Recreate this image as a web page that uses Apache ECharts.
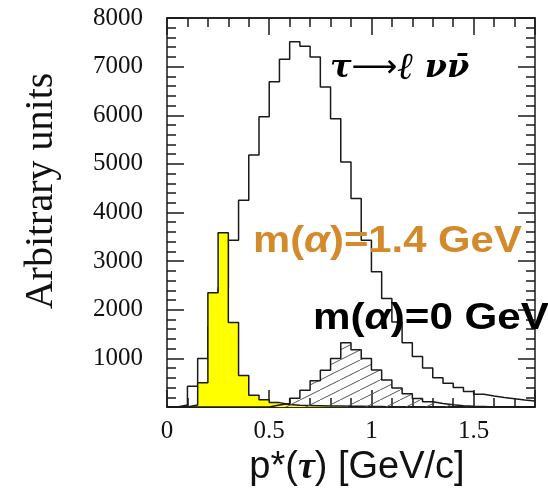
<!DOCTYPE html>
<html><head><meta charset="utf-8">
<script src="https://cdn.jsdelivr.net/npm/echarts@6/dist/echarts.min.js"></script>
<style>html,body{margin:0;padding:0;background:#fff}#c{width:548px;height:494px}</style>
</head><body><div id="c"></div>
<script>
// Bin edges of p*(tau) [GeV/c]
const binEdges = [0,0.05,0.1,0.15,0.2,0.25,0.3,0.35,0.4,0.45,0.5,0.55,0.6,0.65,0.7,0.75,0.8,0.85,0.9,0.95,
  1.0,1.05,1.1,1.15,1.2,1.25,1.3,1.35,1.4,1.45,1.5,1.55,1.6,1.65,1.7,1.75,1.8];
// tau -> l nu nubar (open histogram)
const tauLNuNu = [0,40,425,1000,1650,2450,3430,4250,5180,5970,6690,7150,7510,7420,7200,6580,5930,5040,4290,3430,
  2780,2230,1750,1320,1040,800,600,490,400,320,260,225,195,170,145,125];
// m(alpha)=1.4 GeV (yellow)
const mAlpha14 = [0,0,40,500,2350,3585,1740,650,240,150,90,50,35,30,25,20,20,15,15,10,
  10,0,0,0,0,0,0,0,0,0,0,0,0,0,0,0];
// m(alpha)=0 GeV (hatched)
const mAlpha0 = [0,0,0,0,0,0,0,0,0,0,40,70,180,345,540,755,1000,1320,1175,1000,
  760,555,390,272,175,110,70,45,25,15,10,0,0,0,0,0];
const yMax = 8000;

function steps(vals){
  const pts = vals.map((v,i)=>[binEdges[i], v]);
  pts.push([binEdges[vals.length], vals[vals.length-1]]);
  return pts;
}
function hatch(){
  const c = document.createElement('canvas');
  c.width = 20; c.height = 10;
  const g = c.getContext('2d');
  g.strokeStyle = '#555'; g.lineWidth = 1;
  for (const dx of [-20,0,20]) { g.beginPath(); g.moveTo(dx,10); g.lineTo(dx+20,0); g.stroke(); }
  return c;
}
const axCol = '#1a1a1a';
const lineW = 1.5;
function xAx(pos, interval, len, labels){
  return {
    type:'value', min:0, max:1.8, interval:interval, position:pos,
    axisLine:{show:true, onZero:false, lineStyle:{color:axCol, width:lineW}},
    axisTick:{show:true, inside:true, length:len, lineStyle:{color:axCol, width:lineW}},
    splitLine:{show:false},
    axisLabel: labels ? {show:true, fontFamily:'Liberation Serif', fontSize:25, color:'#111', margin:12,
      formatter: v => (Math.abs(v*2-Math.round(v*2))<1e-6 && v<1.75) ? String(Math.round(v*10)/10) : ''} : {show:false},
    name: labels ? 'p*({t|τ}) [GeV/c]' : '',
    nameLocation:'middle', nameGap:41,
    nameTextStyle:{fontFamily:'Liberation Sans', fontSize:38, color:'#111', padding:[0,0,0,12],
      rich:{t:{fontFamily:'Liberation Serif', fontSize:38, fontWeight:'bold', fontStyle:'italic', color:'#111'}}}
  };
}
function yAx(pos, labels){
  return {
    type:'value', min:0, max:yMax, interval:1000, position:pos,
    axisLine:{show:true, onZero:false, lineStyle:{color:axCol, width:lineW}},
    axisTick:{show:true, inside:true, length:17, lineStyle:{color:axCol, width:lineW}},
    minorTick:{show:true, splitNumber:5, length:9, lineStyle:{color:axCol, width:lineW}},
    splitLine:{show:false}, minorSplitLine:{show:false},
    axisLabel: labels ? {show:true, fontFamily:'Liberation Serif', fontSize:25, color:'#111', margin:24,
      formatter: v => v===0 ? '' : String(v)} : {show:false}
  };
}
const chart = echarts.init(document.getElementById('c'), null, {renderer:'canvas'});
chart.setOption({
  animation:false,
  backgroundColor:'#fff',
  grid:{left:167, right:13, top:18, bottom:87, containLabel:false},
  xAxis:[xAx('bottom',0.1,9,true), xAx('bottom',0.5,17,false), xAx('top',0.1,9,false), xAx('top',0.5,17,false)],
  yAxis:[yAx('left',true), yAx('right',false)],
  graphic:[
    {type:'text', x:41, y:191, rotation:Math.PI/2, z:10,
      style:{text:'Arbitrary units', fontFamily:'Liberation Serif', fontSize:40, fill:'#111', align:'center', verticalAlign:'middle'}},
    {type:'text', x:330, y:69, z:10,
      style:{text:'{g|τ}{a|⟶}{l|ℓ}{g| νν̄}', align:'left', verticalAlign:'middle',
        rich:{g:{fontFamily:'DejaVu Serif', fontSize:32, fontWeight:'bold', fontStyle:'italic', fill:'#000'},
              a:{fontFamily:'DejaVu Sans', fontSize:32, fill:'#000'},
              l:{fontFamily:'DejaVu Serif', fontSize:38, fontStyle:'italic', fontWeight:'bold', fill:'#000'}}}},
    {type:'text', x:253, y:242, scaleX:1.13, z:10,
      style:{text:'{n|m(}{a|α}{n|)=1.4 GeV}', align:'left', verticalAlign:'middle',
        rich:{n:{fontFamily:'Liberation Sans', fontSize:37, fontWeight:'bold', fill:'#d38a2a'},
              a:{fontFamily:'Liberation Sans', fontSize:37, fontWeight:'bold', fontStyle:'italic', fill:'#d38a2a'}}}},
    {type:'text', x:313, y:319, scaleX:1.14, z:10,
      style:{text:'{n|m(}{a|α}{n|)=0 GeV}', align:'left', verticalAlign:'middle',
        rich:{n:{fontFamily:'Liberation Sans', fontSize:37, fontWeight:'bold', fill:'#000'},
              a:{fontFamily:'Liberation Sans', fontSize:37, fontWeight:'bold', fontStyle:'italic', fill:'#000'}}}}
  ],
  series:[
    {type:'line', name:'τ→ℓνν̄', step:'end', data:steps(tauLNuNu), symbol:'none', z:2,
      lineStyle:{color:'#1a1a1a', width:lineW}},
    {type:'line', name:'m(α)=1.4 GeV', step:'end', data:steps(mAlpha14), symbol:'none', z:3,
      lineStyle:{color:'#1a1a1a', width:lineW}, areaStyle:{color:'#ffff00', opacity:1}},
    {type:'line', name:'m(α)=0 GeV', step:'end', data:steps(mAlpha0), symbol:'none', z:4,
      lineStyle:{color:'#1a1a1a', width:lineW}, areaStyle:{color:{image:hatch(), repeat:'repeat'}, opacity:1}}
  ]
});
</script></body></html>
